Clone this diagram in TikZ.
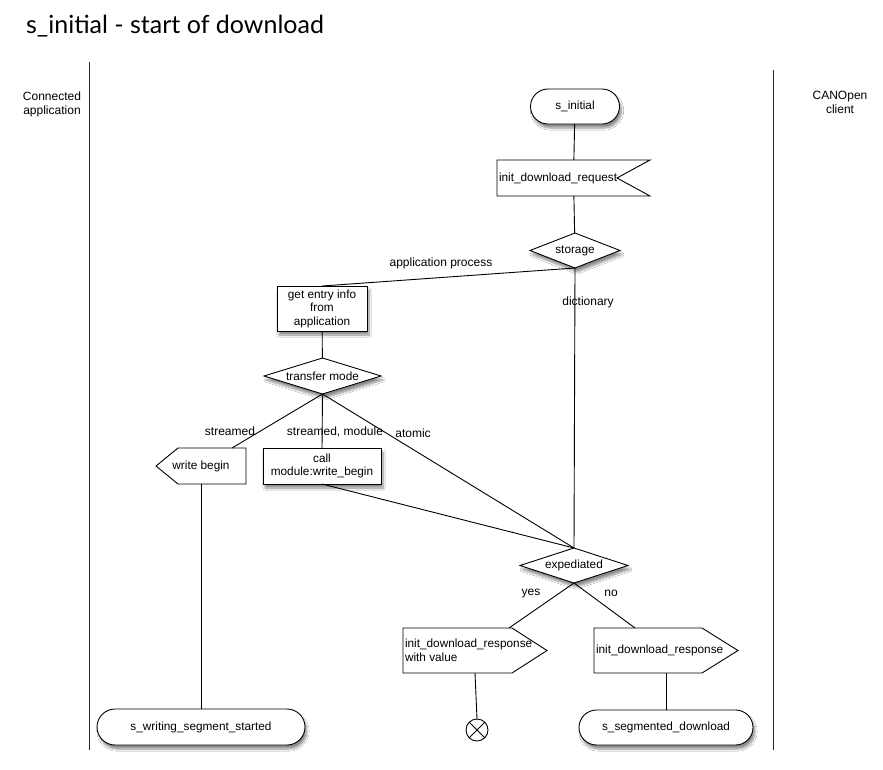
\documentclass[tikz,border=0pt]{standalone}
\usepackage{fontspec}
\setmainfont{Liberation Sans}
\newfontfamily\titlefont{Lato}
\usetikzlibrary{shapes.geometric,shapes.misc,shadows.blur}

\begin{document}
\begin{tikzpicture}[x=1pt,y=-1pt,
  every node/.style={font=\fontsize{11.8}{13.5}\selectfont, inner sep=0pt, outer sep=0pt},
  lw/.style={line width=0.9pt},
  shade/.style={blur shadow={shadow xshift=2pt, shadow yshift=-4pt, shadow blur steps=8, shadow opacity=45}},
  statebox/.style={rounded rectangle, draw, lw, fill=white, shade},
  procbox/.style={rectangle, draw, lw, fill=white, align=center},
  decision/.style={diamond, draw, lw, fill=white, shade},
  hidden/.style={rectangle, minimum height=#1},
  label/.style={font=\fontsize{12}{14}\selectfont},
  lane/.style={line width=0.8pt, black!85}
]
\useasboundingbox[fill=white] (0,0) rectangle (883,769);

% title
\node[font=\titlefont\fontsize{25}{28}\selectfont] (title) at (175,26) {s\_initial - start of download};

% swimlanes
\coordinate (laneLtop) at (89,62);
\coordinate (laneLbot) at (89,750);
\coordinate (laneRtop) at (773,70);
\coordinate (laneRbot) at (773,750);
\draw[lane] (laneLtop) -- (laneLbot);
\draw[lane] (laneRtop) -- (laneRbot);
\node[align=center, label] (app) at (52,104) {Connected\\application};
\node[align=center, label] (can) at (840,102) {CANOpen\\client};

% start state
\node[statebox, minimum width=89pt, minimum height=35pt] (sinit) at (575,106.5) {s\_initial};

% received signal: init_download_request
\node[hidden=36pt, minimum width=153pt] (req) at (573.5,178) {};
\draw[lw, fill=white] (req.north west) -- (req.north east) -- ([xshift=-33pt]req.east)
  -- (req.south east) -- (req.south west) -- cycle;
\node[anchor=west] (reqtext) at ([xshift=2pt]req.west) {init\_download\_request};

% storage decision
\node[decision, aspect=2.57, minimum width=90pt, minimum height=35pt] (storage) at (575,250.5) {storage};

% application branch
\node[procbox, shade, minimum width=90pt, minimum height=45pt] (entry) at (322,308.5) {get entry info\\from\\application};
\node[decision, aspect=3.25, minimum width=117pt, minimum height=36pt] (tmode) at (322.5,376) {transfer mode};

% write begin (send signal to the left)
\node[hidden=36pt, minimum width=90pt] (wb) at (201,466) {};
\draw[lw, fill=white] (wb.west) -- ([xshift=22pt]wb.north west) -- (wb.north east)
  -- (wb.south east) -- ([xshift=22pt]wb.south west) -- cycle;
\node (wbtext) at (wb) {write begin};

\node[procbox, shade, minimum width=118pt, minimum height=36pt] (call) at (322,466) {call\\module:write\_begin};

% expediated decision
\node[decision, aspect=3.08, minimum width=108pt, minimum height=35pt] (exped) at (574,565.5) {expediated};

% responses (send signals to the right)
\node[hidden=45pt, minimum width=144pt] (rv) at (475,650.5) {};
\draw[lw, fill=white] (rv.north west) -- ([xshift=-35pt]rv.north east) -- (rv.east)
  -- ([xshift=-35pt]rv.south east) -- (rv.south west) -- cycle;
\node[anchor=west, align=left] (rvtext) at ([xshift=2pt]rv.west) {init\_download\_response\\with value};

\node[hidden=45pt, minimum width=144pt] (rn) at (666,650.5) {};
\draw[lw, fill=white] (rn.north west) -- ([xshift=-36pt]rn.north east) -- (rn.east)
  -- ([xshift=-36pt]rn.south east) -- (rn.south west) -- cycle;
\node[anchor=west] (rntext) at ([xshift=2pt]rn.west) {init\_download\_response};

% end states
\node[circle, draw, lw, fill=white, minimum size=22pt] (final) at (477,730) {};
\draw[lw] (final.north west) -- (final.south east);
\draw[lw] (final.north east) -- (final.south west);
\node[statebox, minimum width=208pt, minimum height=36pt] (sws) at (201,727) {s\_writing\_segment\_started};
\node[statebox, minimum width=174pt, minimum height=35pt] (seg) at (666,727.5) {s\_segmented\_download};

% connectors
\begin{scope}[lw]
\draw (sinit) -- (req);
\draw (req) -- (storage);
\draw (storage.south) -- (entry.north);
\draw (storage.south) -- (exped.north);
\draw (entry) -- (tmode);
\draw (tmode.south) -- ([xshift=31pt]wb.north);
\draw (tmode.south) -- (call.north);
\draw (tmode.south) -- (exped.north);
\draw (call.south) -- (exped.north);
\draw (wb.south) -- (sws.north);
\draw (exped.south) -- ([xshift=34pt]rv.north);
\draw (exped.south) -- ([xshift=-31pt]rn.north);
\draw (rv.south) -- (final.north);
\draw (rn.south) -- (seg.north);
\end{scope}

% connector labels
\node[label] (lapp) at (441,263) {application process};
\node[label] (ldict) at (588,302) {dictionary};
\node[label] (lstr) at (230,431) {streamed};
\node[label] (lstrm) at (335,432) {streamed, module};
\node[label] (latom) at (413,433) {atomic};
\node[label] (lyes) at (531,594) {yes};
\node[label] (lno) at (611,593) {no};
\end{tikzpicture}
\end{document}
